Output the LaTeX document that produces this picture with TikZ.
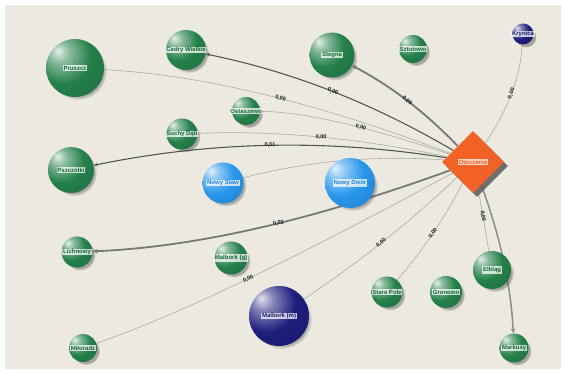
\documentclass[tikz,border=0pt]{standalone}
\usepackage{fontspec}
\setmainfont{Liberation Sans}
\usetikzlibrary{shapes.geometric,shadows,arrows.meta,backgrounds,fadings}
\definecolor{bgc}{RGB}{236,234,224}
\definecolor{sphgreen}{RGB}{36,128,74}
\definecolor{sphblue}{RGB}{40,150,236}
\definecolor{sphnavy}{RGB}{30,30,125}
\definecolor{gtxt}{RGB}{18,100,52}
\definecolor{btxt}{RGB}{35,130,215}
\definecolor{ntxt}{RGB}{25,25,105}
\definecolor{orangec}{RGB}{242,98,38}
\definecolor{otxt}{RGB}{235,90,30}
\definecolor{lightc}{RGB}{165,165,158}
\definecolor{darkc}{RGB}{85,85,85}
\definecolor{midc}{RGB}{120,120,118}
\colorlet{sphc}{sphgreen}
\pgfdeclareradialshading[sphc]{myball}{\pgfqpoint{-15bp}{15bp}}{%
  color(0bp)=(sphc!12!white); color(9bp)=(sphc!55!white); color(24bp)=(sphc);
  color(45bp)=(sphc!85!black); color(62bp)=(sphc!62!black); color(80bp)=(sphc!55!black)}
\begin{document}
\begin{tikzpicture}[x=1pt,y=-1pt,
  every node/.style={font=\fontsize{6}{7}\selectfont\bfseries},
  sphere/.style={circle, inner sep=0pt, draw=none, /utils/exec={\colorlet{sphc}{#1}}, shading=myball,
    circular drop shadow={shadow xshift=3pt, shadow yshift=-3pt, opacity=.45, fill=black!70, shadow scale=1.0}},
  lbl/.style={fill=white, fill opacity=.75, text opacity=1, inner sep=0.7pt, text=#1},
  glbl/.style={lbl=gtxt},
  blbl/.style={lbl=btxt},
  nlbl/.style={lbl=ntxt},
  olbl/.style={lbl=otxt},
  lightedge/.style={draw=lightc, line width=.55pt},
  darkedge/.style={draw=darkc, line width=1.1pt, -{Stealth[length=4pt,width=3.5pt]}},
  heavyedge/.style={draw=midc, line width=1.8pt, -{Stealth[length=5pt,width=4.5pt]}},
  elbl/.style={font=\fontsize{5.5}{6}\selectfont\bfseries, text=black!90, inner sep=0.2pt, sloped}
]
\useasboundingbox (0,0) rectangle (565,374);
% nodes
\node[sphere=sphgreen, minimum size=58pt, label={[glbl]center:Pruszcz}] (pruszcz) at (75,68) {};
\node[sphere=sphgreen, minimum size=40pt, label={[glbl]center:Cedry Wielkie}] (cedry) at (186,50) {};
\node[sphere=sphgreen, minimum size=45pt, label={[glbl]center:Stegna}] (stegna) at (332,55) {};
\node[sphere=sphgreen, minimum size=28pt, label={[glbl]center:Sztutowo}] (sztutowo) at (413,49) {};
\node[sphere=sphnavy, minimum size=21pt, label={[nlbl]center:Krynica}] (krynica) at (523,34) {};
\node[sphere=sphgreen, minimum size=28pt, label={[glbl]center:Ostaszewo}] (ostaszewo) at (246,111) {};
\node[sphere=sphgreen, minimum size=31pt, label={[glbl]center:Suchy Dąb}] (suchy) at (182,134) {};
\node[sphere=sphgreen, minimum size=46pt, label={[glbl]center:Pszczółki}] (pszczolki) at (71,170) {};
\node[sphere=sphblue, minimum size=41pt, label={[blbl]center:Nowy Staw}] (nowystaw) at (223,183) {};
\node[sphere=sphblue, minimum size=50pt, label={[blbl]center:Nowy Dwór}] (nowydwor) at (350,183) {};
\node[sphere=sphgreen, minimum size=31pt, label={[glbl]center:Lichnowy}] (lichnowy) at (77,252) {};
\node[sphere=sphgreen, minimum size=33pt, label={[glbl]center:Malbork (g)}] (malborkg) at (231,258) {};
\node[sphere=sphnavy, minimum size=60pt, label={[nlbl]center:Malbork (m)}] (malborkm) at (279,316) {};
\node[sphere=sphgreen, minimum size=28pt, label={[glbl]center:Miłoradz}] (miloradz) at (83,348) {};
\node[sphere=sphgreen, minimum size=31pt, label={[glbl]center:Stare Pole}] (starepole) at (387,292) {};
\node[sphere=sphgreen, minimum size=32pt, label={[glbl]center:Gronowo}] (gronowo) at (446,292) {};
\node[sphere=sphgreen, minimum size=38pt, label={[glbl]center:Elbląg}] (elblag) at (492,270) {};
\node[sphere=sphgreen, minimum size=29pt, label={[glbl]center:Markusy}] (markusy) at (514,348) {};
\node[diamond, fill=orangec, minimum width=62pt, minimum height=62pt, inner sep=0pt,
  drop shadow={shadow xshift=4pt, shadow yshift=-4pt, fill=black!65, opacity=.85},
  label={[olbl]center:Otoczenie}] (oto) at (473,162) {};
% edges
\begin{scope}[on background layer]
\fill[white] (0,0) rectangle (565,374);
\fill[bgc] (5,5) rectangle (561,369);
\draw[lightedge] (oto) .. controls (315,102) and (202,75) .. (pruszcz) node[elbl,pos=.45]{0,00};
\draw[darkedge] (oto) .. controls (374,104) and (294,72) .. (cedry) node[elbl,pos=.5]{0,00};
\draw[heavyedge] (oto) .. controls (425,112) and (391,86) .. (stegna) node[elbl,pos=.5]{0,00};
\draw[lightedge] (oto) .. controls (368,127) and (306,112) .. (ostaszewo) node[elbl,pos=.4]{0,00};
\draw[lightedge] (oto) .. controls (362,139) and (279,130) .. (suchy) node[elbl,pos=.5]{0,00};
\draw[darkedge] (oto) .. controls (328,139) and (212,141) .. (pszczolki) node[elbl,pos=.5]{0,01};
\draw[lightedge] (oto) .. controls (375,155) and (308,161) .. (nowystaw);
\draw[heavyedge] (oto) .. controls (316,219) and (198,247) .. (lichnowy) node[elbl,pos=.45]{0,02};
\draw[lightedge] (oto) .. controls (298,257) and (181,314) .. (miloradz) node[elbl,pos=.5]{0,00};
\draw[lightedge] (oto) .. controls (407,225) and (356,264) .. (malborkm) node[elbl,pos=.5]{0,00};
\draw[lightedge] (oto) .. controls (445,218) and (423,250) .. (starepole) node[elbl,pos=.5]{0,00};
\draw[lightedge] (oto) .. controls (482,210) and (485,228) .. (elblag) node[elbl,pos=.45]{0,00};
\draw[heavyedge, draw=midc!85!white, line width=1.5pt] (oto) .. controls (501,239) and (511,287) .. (markusy);
\draw[lightedge] (oto) .. controls (508,109) and (520,78) .. (krynica) node[elbl,pos=.5]{0,00};
\end{scope}
\end{tikzpicture}
\end{document}
